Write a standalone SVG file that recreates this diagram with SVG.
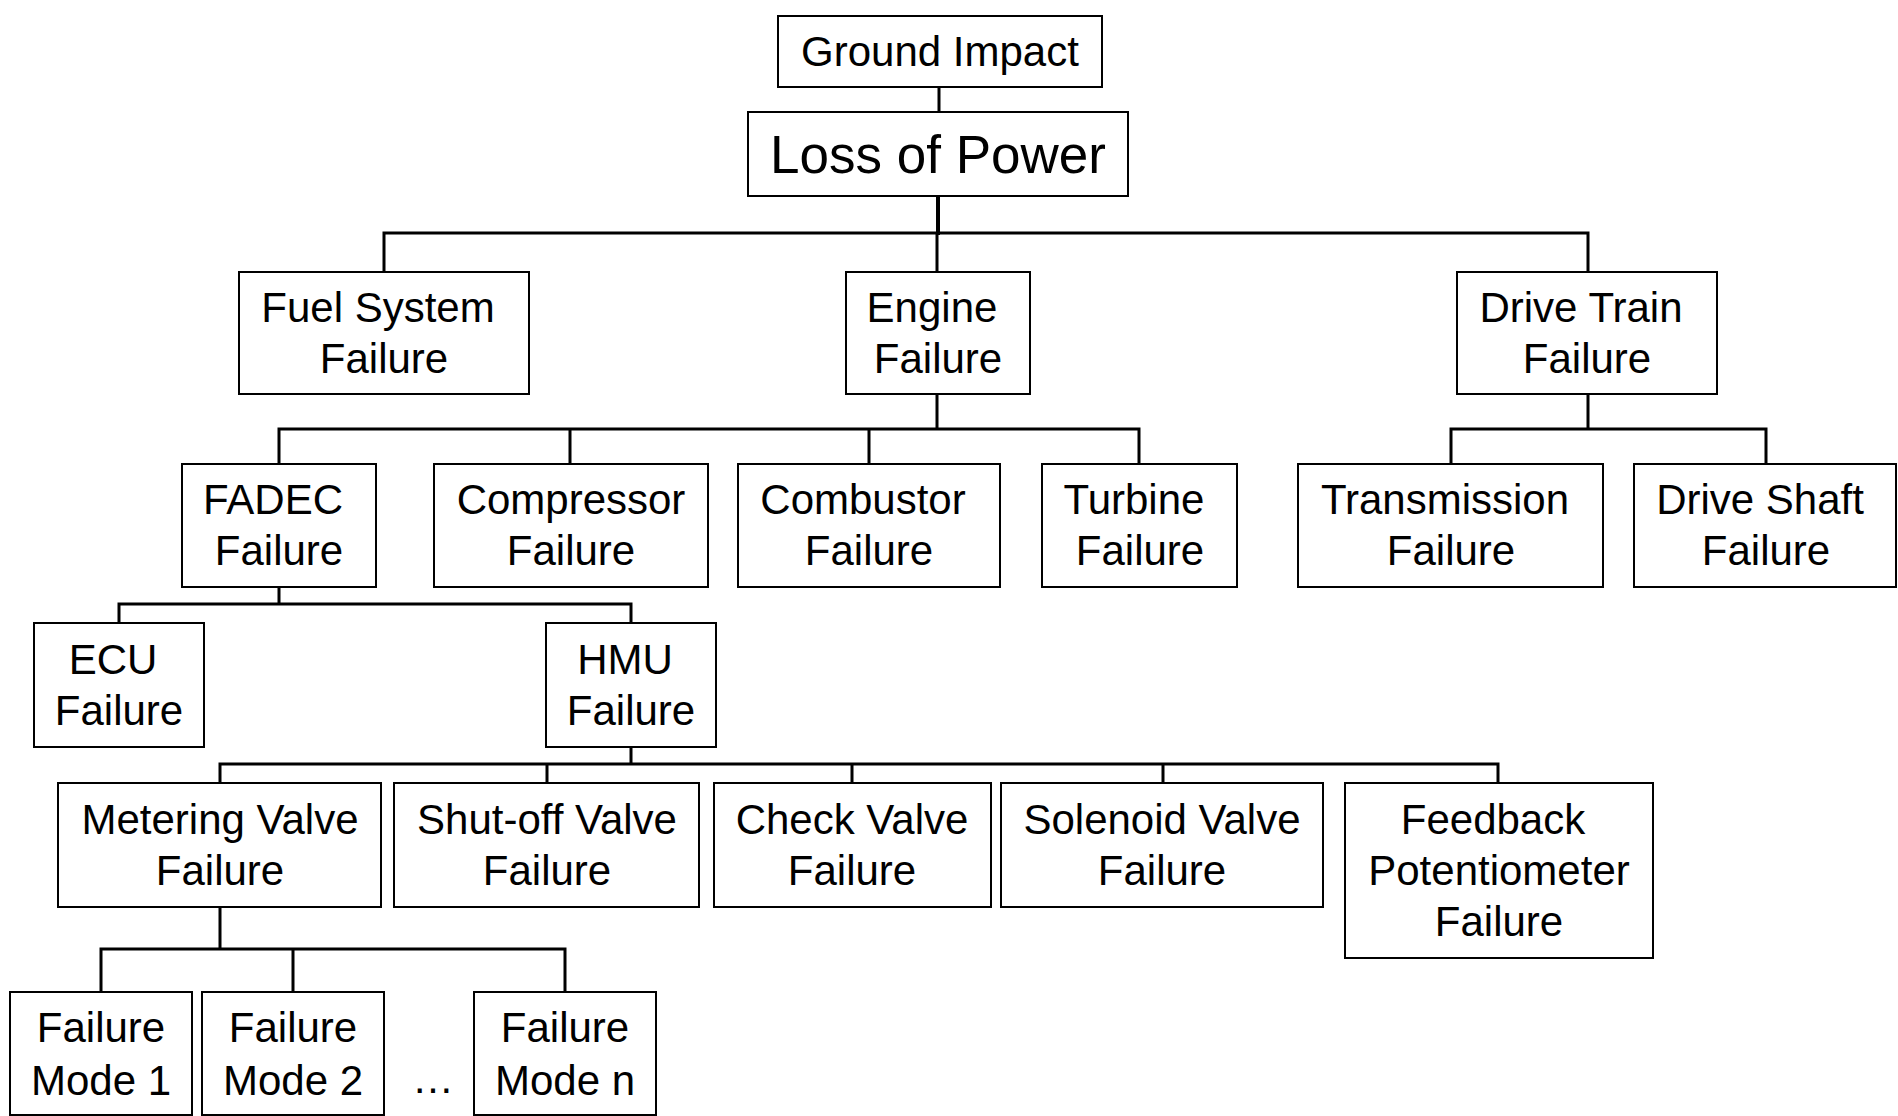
<svg xmlns="http://www.w3.org/2000/svg" width="1898" height="1116" viewBox="0 0 1898 1116">
<style>
.box{fill:#fff;stroke:#000;stroke-width:2}
.t{font-family:"Liberation Sans",Arial,sans-serif;font-size:42px;fill:#000;text-anchor:middle}
.big{font-size:53px}
.c{fill:none;stroke:#000;stroke-width:3;stroke-linecap:square}
</style>
<rect width="1898" height="1116" fill="#fff"/>
<g id="connectors">
<path class="c" d="M939,88 V111"/>
<path class="c" style="stroke-width:4" d="M938,197 V233"/>
<path class="c" d="M384,272 V233 H1588 V272 M937,233 V272"/>
<path class="c" d="M937,395 V429 M279,464 V429 H1139 V464 M570,429 V464 M869,429 V464"/>
<path class="c" d="M1588,395 V429 M1451,464 V429 H1766 V464"/>
<path class="c" d="M279,587 V604 M119,623 V604 H631 V623"/>
<path class="c" d="M631,747 V764 M220,783 V764 H1498 V783 M547,764 V783 M852,764 V783 M1163,764 V783"/>
<path class="c" d="M220,907 V949 M101,991 V949 H565 V991 M293,949 V991"/>
</g>
<g id="ground-impact"><rect class="box" x="778" y="16" width="324" height="71"/><text class="t" x="940" y="66">Ground Impact</text></g>
<g id="loss-of-power"><rect class="box" x="748" y="112" width="380" height="84"/><text class="t big" x="938" y="173">Loss of Power</text></g>
<g id="fuel-system"><rect class="box" x="239" y="272" width="290" height="122"/><text class="t" x="378" y="322">Fuel System</text><text class="t" x="384" y="373">Failure</text></g>
<g id="engine"><rect class="box" x="846" y="272" width="184" height="122"/><text class="t" x="932" y="322">Engine</text><text class="t" x="938" y="373">Failure</text></g>
<g id="drive-train"><rect class="box" x="1457" y="272" width="260" height="122"/><text class="t" x="1581" y="322">Drive Train</text><text class="t" x="1587" y="373">Failure</text></g>
<g id="fadec"><rect class="box" x="182" y="464" width="194" height="123"/><text class="t" x="273" y="514">FADEC</text><text class="t" x="279" y="565">Failure</text></g>
<g id="compressor"><rect class="box" x="434" y="464" width="274" height="123"/><text class="t" x="571" y="514">Compressor</text><text class="t" x="571" y="565">Failure</text></g>
<g id="combustor"><rect class="box" x="738" y="464" width="262" height="123"/><text class="t" x="863" y="514">Combustor</text><text class="t" x="869" y="565">Failure</text></g>
<g id="turbine"><rect class="box" x="1042" y="464" width="195" height="123"/><text class="t" x="1134" y="514">Turbine</text><text class="t" x="1140" y="565">Failure</text></g>
<g id="transmission"><rect class="box" x="1298" y="464" width="305" height="123"/><text class="t" x="1445" y="514">Transmission</text><text class="t" x="1451" y="565">Failure</text></g>
<g id="drive-shaft"><rect class="box" x="1634" y="464" width="262" height="123"/><text class="t" x="1760" y="514">Drive Shaft</text><text class="t" x="1766" y="565">Failure</text></g>
<g id="ecu"><rect class="box" x="34" y="623" width="170" height="124"/><text class="t" x="113" y="674">ECU</text><text class="t" x="119" y="725">Failure</text></g>
<g id="hmu"><rect class="box" x="546" y="623" width="170" height="124"/><text class="t" x="625" y="674">HMU</text><text class="t" x="631" y="725">Failure</text></g>
<g id="metering-valve"><rect class="box" x="58" y="783" width="323" height="124"/><text class="t" x="220" y="834">Metering Valve</text><text class="t" x="220" y="885">Failure</text></g>
<g id="shutoff-valve"><rect class="box" x="394" y="783" width="305" height="124"/><text class="t" x="547" y="834">Shut-off Valve</text><text class="t" x="547" y="885">Failure</text></g>
<g id="check-valve"><rect class="box" x="714" y="783" width="277" height="124"/><text class="t" x="852" y="834">Check Valve</text><text class="t" x="852" y="885">Failure</text></g>
<g id="solenoid-valve"><rect class="box" x="1001" y="783" width="322" height="124"/><text class="t" x="1162" y="834">Solenoid Valve</text><text class="t" x="1162" y="885">Failure</text></g>
<g id="feedback-potentiometer"><rect class="box" x="1345" y="783" width="308" height="175"/><text class="t" x="1493" y="834">Feedback</text><text class="t" x="1499" y="885">Potentiometer</text><text class="t" x="1499" y="936">Failure</text></g>
<g id="failure-mode-1"><rect class="box" x="10" y="992" width="182" height="123"/><text class="t" x="101" y="1042">Failure</text><text class="t" x="101" y="1095">Mode 1</text></g>
<g id="failure-mode-2"><rect class="box" x="202" y="992" width="182" height="123"/><text class="t" x="293" y="1042">Failure</text><text class="t" x="293" y="1095">Mode 2</text></g>
<text class="t" x="433" y="1093">…</text>
<g id="failure-mode-n"><rect class="box" x="474" y="992" width="182" height="123"/><text class="t" x="565" y="1042">Failure</text><text class="t" x="565" y="1095">Mode n</text></g>
</svg>
